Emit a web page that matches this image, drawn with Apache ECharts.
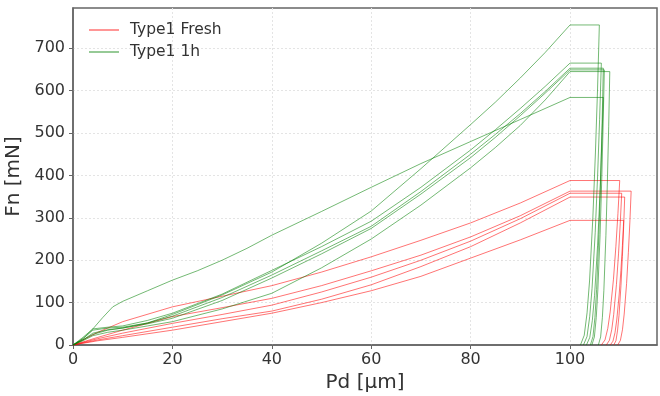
<!DOCTYPE html>
<html>
<head>
<meta charset="utf-8">
<script src="https://cdn.jsdelivr.net/npm/echarts@6/dist/echarts.min.js"></script>
<style>
  html, body { margin: 0; padding: 0; background: #fff; }
  #chart { width: 660px; height: 396px; }
</style>
</head>
<body>
<div id="chart"></div>
<script>
// Axis ticks
const xTicks = [0, 20, 40, 60, 80, 100];
const yTicks = [0, 100, 200, 300, 400, 500, 600, 700];
const seriesNames = ['Type1 Fresh', 'Type1 1h'];

// Type1 Fresh curves [Pd µm, Fn mN]
const fresh1 = [[0,0],[5,30],[10,55],[20,90],[30,115],[40,140],[50,172],[60,208],[70,247],[80,288],[90,335],[100,388],[110,388],[109.64,310],[109.23,233],[108.74,155],[108.08,78],[107.6,39],[107.04,12],[106.3,0]];
const fresh2 = [[0,0],[5,18],[10,35],[20,67],[30,88],[40,110],[50,140],[60,175],[70,212],[80,255],[90,305],[100,363],[112.3,363],[112.04,290],[111.74,218],[111.38,145],[110.9,73],[110.55,36],[110.14,11],[109.6,0]];
const fresh3 = [[0,0],[5,15],[10,28],[20,51],[30,72],[40,94],[50,125],[60,160],[70,200],[80,245],[90,298],[100,358],[110.4,358],[110.1,286],[109.76,215],[109.34,143],[108.79,72],[108.39,36],[107.92,11],[107.3,0]];
const fresh4 = [[0,0],[5,12],[10,22],[20,42],[30,62],[40,80],[50,108],[60,142],[70,185],[80,232],[90,288],[100,349],[111,349],[110.79,279],[110.54,209],[110.25,140],[109.86,70],[109.57,35],[109.24,10],[108.8,0]];
const fresh5 = [[0,0],[5,10],[10,18],[20,35],[30,55],[40,75],[50,100],[60,128],[70,162],[80,205],[90,248],[100,294],[110.8,294],[110.54,235],[110.24,176],[109.88,118],[109.4,59],[109.05,29],[108.64,9],[108.1,0]];

// Type1 1h curves [Pd µm, Fn mN]
const aged1 = [[0,0],[2,12],[4,25],[7,35],[10,40],[15,52],[20,72],[30,118],[40,172],[50,240],[60,316],[70,416],[80,520],[85,573],[90,630],[95,690],[100,755],[105.9,755],[105.54,604],[105.11,453],[104.6,302],[103.93,151],[103.43,76],[102.86,23],[102.1,0]];
const aged2 = [[0,0],[2,18],[4,38],[7,42],[10,45],[15,58],[20,75],[30,120],[40,176],[50,232],[60,292],[70,372],[80,460],[85,508],[90,558],[95,610],[100,665],[106.3,665],[105.95,532],[105.55,399],[105.07,266],[104.43,133],[103.96,67],[103.42,20],[102.7,0]];
const aged3 = [[0,0],[2,15],[4,35],[7,40],[10,42],[15,52],[20,68],[30,112],[40,165],[50,222],[60,280],[70,362],[80,450],[85,497],[90,546],[95,598],[100,653],[106.7,653],[106.45,522],[106.16,392],[105.81,261],[105.35,131],[105.01,65],[104.62,20],[104.1,0]];
const aged4 = [[0,0],[2,12],[4,28],[7,36],[10,40],[15,50],[20,63],[30,105],[40,158],[50,215],[60,275],[70,356],[80,442],[85,490],[90,541],[95,594],[100,649],[106.9,649],[106.66,519],[106.38,389],[106.05,260],[105.6,130],[105.28,65],[104.9,19],[104.4,0]];
const aged5 = [[0,0],[2,10],[4,22],[7,30],[10,35],[15,45],[20,55],[30,85],[40,122],[50,182],[60,250],[70,330],[80,418],[85,466],[90,518],[95,578],[100,645],[108,645],[107.78,516],[107.52,387],[107.22,258],[106.81,129],[106.51,65],[106.16,19],[105.7,0]];
const aged6 = [[0,0],[2,15],[4,38],[6,65],[8,90],[10,103],[15,128],[20,153],[25,175],[30,200],[35,228],[40,259],[50,315],[60,372],[70,428],[80,480],[90,532],[100,584],[106.7,584],[106.37,467],[106,350],[105.54,234],[104.94,117],[104.49,58],[103.98,18],[103.3,0]];

const freshCurves = [fresh1, fresh2, fresh3, fresh4, fresh5];
const agedCurves = [aged1, aged2, aged3, aged4, aged5, aged6];

const RED = 'rgba(255,0,0,0.55)';
const GREEN = 'rgba(0,128,0,0.55)';

function mk(name, color, data) {
  return {
    name: name, type: 'line', data: data, showSymbol: false, symbol: 'none',
    lineStyle: { color: color, width: 1 }, itemStyle: { color: color },
    animation: false, silent: true
  };
}
const series = [];
freshCurves.forEach(d => series.push(mk(seriesNames[0], RED, d)));
agedCurves.forEach(d => series.push(mk(seriesNames[1], GREEN, d)));

const font = 'DejaVu Sans';
const chart = echarts.init(document.getElementById('chart'), null, { renderer: 'canvas' });
chart.setOption({
  animation: false,
  backgroundColor: '#fff',
  grid: { left: 73, right: 3, top: 8, bottom: 51, containLabel: false, outerBoundsMode: 'none',
    show: true, borderColor: '#666', borderWidth: 1.5, backgroundColor: 'transparent' },
  legend: {
    data: seriesNames, orient: 'vertical', left: 84, top: 14,
    icon: 'rect', itemWidth: 30, itemHeight: 1.5, itemGap: 0,
    textStyle: { fontFamily: font, fontSize: 15.5, color: '#333', lineHeight: 22, padding: [0,0,0,6] }
  },
  xAxis: {
    type: 'value', min: 0, max: 117.5, interval: 20,
    name: 'Pd [µm]', nameLocation: 'middle', nameGap: 26,
    nameTextStyle: { fontFamily: font, fontSize: 20, color: '#333' },
    axisLine: { show: true, lineStyle: { color: '#666', width: 1.5 } },
    axisTick: { show: true, length: 4, lineStyle: { color: '#666' } },
    axisLabel: { fontFamily: font, fontSize: 16, color: '#333', margin: 7, showMaxLabel: false,
      formatter: v => xTicks.includes(v) ? String(v) : '' },
    splitLine: { show: true, showMinLine: false, showMaxLine: false, lineStyle: { color: '#e4e4e4', type: [2, 2], width: 1 } }
  },
  yAxis: {
    type: 'value', min: 0, max: 795, interval: 100,
    name: 'Fn [mN]', nameLocation: 'middle', nameGap: 44,
    nameTextStyle: { fontFamily: font, fontSize: 20, color: '#333' },
    axisLine: { show: true, lineStyle: { color: '#666', width: 1.5 } },
    axisTick: { show: true, length: 4, lineStyle: { color: '#666' } },
    axisLabel: { fontFamily: font, fontSize: 16, color: '#333', margin: 8, showMaxLabel: false,
      formatter: v => yTicks.includes(v) ? String(v) : '' },
    splitLine: { show: true, showMinLine: false, showMaxLine: false, lineStyle: { color: '#e4e4e4', type: [2, 2], width: 1 } }
  },
  series: series
});
</script>
</body>
</html>
